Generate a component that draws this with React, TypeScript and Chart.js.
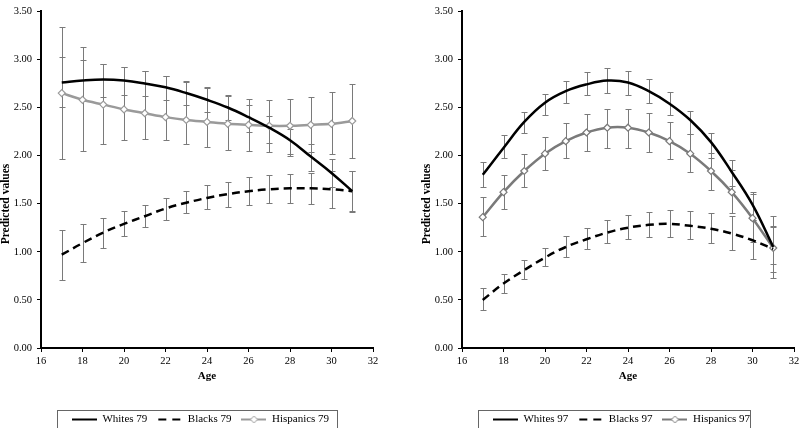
import React, { useEffect, useRef } from "react";
import { Chart, registerables } from "chart.js";
Chart.register(...registerables);

const ages = [17, 18, 19, 20, 21, 22, 23, 24, 25, 26, 27, 28, 29, 30, 31];
const xTickValues = [16, 18, 20, 22, 24, 26, 28, 30, 32];
const yTickValues = [0, 0.5, 1, 1.5, 2, 2.5, 3, 3.5];

// Cohort 79
const whites79 = [2.76, 2.78, 2.79, 2.78, 2.75, 2.71, 2.65, 2.58, 2.5, 2.4, 2.29, 2.16, 1.99, 1.82, 1.63];
const whites79Low = [2.5, 2.57, 2.61, 2.63, 2.62, 2.58, 2.53, 2.45, 2.37, 2.25, 2.13, 2.02, 1.84, 1.67, 1.42];
const whites79High = [3.02, 2.99, 2.95, 2.92, 2.88, 2.83, 2.77, 2.71, 2.63, 2.53, 2.41, 2.28, 2.12, 1.96, 1.84];
const blacks79 = [0.97, 1.09, 1.2, 1.29, 1.37, 1.45, 1.51, 1.56, 1.6, 1.63, 1.65, 1.66, 1.66, 1.65, 1.63];
const blacks79Low = [0.71, 0.89, 1.04, 1.16, 1.26, 1.33, 1.4, 1.44, 1.47, 1.49, 1.51, 1.51, 1.5, 1.46, 1.41];
const blacks79High = [1.23, 1.29, 1.35, 1.42, 1.49, 1.56, 1.63, 1.69, 1.73, 1.78, 1.8, 1.81, 1.82, 1.84, 1.84];
const hispanics79 = [2.65, 2.58, 2.53, 2.48, 2.44, 2.4, 2.37, 2.35, 2.33, 2.32, 2.31, 2.31, 2.32, 2.33, 2.36];
const hispanics79Low = [1.96, 2.05, 2.12, 2.16, 2.17, 2.16, 2.12, 2.09, 2.06, 2.05, 2.04, 2.0, 2.04, 2.02, 1.97];
const hispanics79High = [3.34, 3.13, 2.95, 2.92, 2.88, 2.83, 2.78, 2.7, 2.62, 2.59, 2.58, 2.59, 2.61, 2.66, 2.74];

// Cohort 97
const whites97 = [1.8, 2.08, 2.35, 2.55, 2.67, 2.74, 2.78, 2.76, 2.67, 2.54, 2.37, 2.14, 1.83, 1.49, 1.05];
const whites97Low = [1.67, 1.98, 2.24, 2.42, 2.55, 2.63, 2.65, 2.63, 2.55, 2.42, 2.22, 1.98, 1.68, 1.33, 0.87];
const whites97High = [1.93, 2.21, 2.45, 2.64, 2.78, 2.87, 2.91, 2.88, 2.8, 2.66, 2.46, 2.23, 1.95, 1.62, 1.26];
const blacks97 = [0.5, 0.67, 0.81, 0.94, 1.05, 1.13, 1.2, 1.25, 1.28, 1.29, 1.27, 1.24, 1.19, 1.12, 1.03];
const blacks97Low = [0.39, 0.57, 0.72, 0.85, 0.95, 1.03, 1.09, 1.13, 1.15, 1.15, 1.13, 1.09, 1.02, 0.92, 0.79];
const blacks97High = [0.62, 0.77, 0.91, 1.04, 1.16, 1.25, 1.33, 1.38, 1.41, 1.43, 1.42, 1.4, 1.37, 1.33, 1.27];
const hispanics97 = [1.36, 1.62, 1.84, 2.02, 2.15, 2.24, 2.29, 2.29, 2.24, 2.15, 2.02, 1.84, 1.62, 1.35, 1.04];
const hispanics97Low = [1.16, 1.45, 1.67, 1.85, 1.97, 2.05, 2.08, 2.08, 2.04, 1.96, 1.83, 1.64, 1.4, 1.1, 0.73];
const hispanics97High = [1.57, 1.8, 2.02, 2.19, 2.34, 2.43, 2.48, 2.48, 2.44, 2.35, 2.22, 2.03, 1.85, 1.6, 1.37];

const FONT = "'Liberation Serif', 'Times New Roman', serif";
const CANVAS_W = 392;
const CANVAS_H = 435;
const Y_TITLE = "Predicted values";

type Series = { label: string; values: number[]; low: number[]; high: number[] };

function makeSample(kind: number, gray: string): HTMLCanvasElement {
  const c = document.createElement("canvas");
  c.width = 25;
  c.height = 11;
  const ctx = c.getContext("2d")!;
  ctx.lineWidth = 2;
  if (kind === 0) {
    ctx.strokeStyle = "#000";
    ctx.beginPath();
    ctx.moveTo(0, 5.5);
    ctx.lineTo(25, 5.5);
    ctx.stroke();
  } else if (kind === 1) {
    ctx.strokeStyle = "#000";
    ctx.beginPath();
    ctx.moveTo(1, 5.5);
    ctx.lineTo(9, 5.5);
    ctx.moveTo(15, 5.5);
    ctx.lineTo(23, 5.5);
    ctx.stroke();
  } else {
    ctx.strokeStyle = gray;
    ctx.beginPath();
    ctx.moveTo(0, 5.5);
    ctx.lineTo(25, 5.5);
    ctx.stroke();
    ctx.lineWidth = 1;
    ctx.fillStyle = "#fff";
    ctx.beginPath();
    ctx.moveTo(12.5, 2);
    ctx.lineTo(16, 5.5);
    ctx.lineTo(12.5, 9);
    ctx.lineTo(9, 5.5);
    ctx.closePath();
    ctx.fill();
    ctx.stroke();
  }
  return c;
}

const errorBarPlugin = {
  id: "errbars",
  beforeDatasetsDraw(chart: any, _args: any, opts: any) {
    const bars: { low: number[]; high: number[] }[] = opts.bars || [];
    const { ctx, scales } = chart;
    const xs = scales.x;
    const ys = scales.y;
    ctx.save();
    ctx.strokeStyle = "#7a7a7a";
    ctx.lineWidth = 1;
    bars.forEach((b) => {
      ages.forEach((a, j) => {
        const x = Math.round(xs.getPixelForValue(a)) + 0.5;
        const y1 = Math.round(ys.getPixelForValue(b.low[j])) + 0.5;
        const y2 = Math.round(ys.getPixelForValue(b.high[j])) + 0.5;
        ctx.beginPath();
        ctx.moveTo(x, y1);
        ctx.lineTo(x, y2);
        ctx.moveTo(x - 3, y1);
        ctx.lineTo(x + 3, y1);
        ctx.moveTo(x - 3, y2);
        ctx.lineTo(x + 3, y2);
        ctx.stroke();
      });
    });
    ctx.restore();
  },
};

const yTitlePlugin = {
  id: "ytitle",
  afterDraw(chart: any) {
    const ctx = chart.ctx;
    ctx.save();
    ctx.translate(6, 204);
    ctx.rotate(-Math.PI / 2);
    ctx.font = `bold 11.5px ${FONT}`;
    ctx.fillStyle = "#000";
    ctx.textAlign = "center";
    ctx.textBaseline = "middle";
    ctx.fillText(Y_TITLE, 0, 0);
    ctx.restore();
  },
};

const legendShiftPlugin = {
  id: "legendshift",
  afterLayout(chart: any, _args: any, opts: any) {
    const lg = chart.legend;
    if (!lg) return;
    const dx = opts.dx ?? 0;
    lg.left += dx;
    lg.right += dx;
  },
};

const legendBoxPlugin = {
  id: "legendbox",
  afterDraw(chart: any, _args: any, opts: any) {
    const lg = chart.legend;
    if (!lg || !lg.legendHitBoxes || !lg.legendHitBoxes.length) return;
    const hb = lg.legendHitBoxes;
    const first = hb[0];
    const last = hb[hb.length - 1];
    const left = Math.round(first.left - 15) + 0.5;
    const right = Math.round(last.left + last.width + (opts.rightPad ?? 12)) + 0.5;
    const top = Math.round(first.top - 4) + 0.5;
    const ctx = chart.ctx;
    ctx.save();
    ctx.strokeStyle = "#666";
    ctx.lineWidth = 1;
    ctx.strokeRect(left, top, right - left, 40);
    ctx.restore();
  },
};

function PanelChart({ series, gray, rightPad }: { series: Series[]; gray: string; rightPad: number }) {
  const ref = useRef<HTMLCanvasElement | null>(null);
  useEffect(() => {
    if (!ref.current) return;
    const samples = [makeSample(0, gray), makeSample(1, gray), makeSample(2, gray)];
    const styles = [
      { color: "#000", dash: [] as number[], marker: false, tension: 0.4 },
      { color: "#000", dash: [8, 5], marker: false, tension: 0.4 },
      { color: gray, dash: [] as number[], marker: true, tension: 0.3 },
    ];
    const chart = new Chart(ref.current, {
      type: "line",
      data: {
        datasets: series.map((s, i) => ({
          label: s.label,
          data: ages.map((a, j) => ({ x: a, y: s.values[j] })),
          borderColor: styles[i].color,
          borderWidth: 2.5,
          borderDash: styles[i].dash,
          tension: styles[i].tension,
          fill: false,
          pointRadius: styles[i].marker ? 3.5 : 0,
          pointStyle: "rectRot",
          pointBackgroundColor: "#fff",
          pointBorderColor: styles[i].color,
          pointBorderWidth: 1.2,
        })),
      },
      options: {
        animation: false,
        responsive: false,
        devicePixelRatio: 1,
        layout: { autoPadding: false, padding: { top: 4, right: 19, left: 0, bottom: 0 } },
        plugins: {
          tooltip: { enabled: false },
          legend: {
            position: "bottom",
            labels: {
              usePointStyle: true,
              pointStyleWidth: 25,
              padding: 10,
              color: "#000",
              font: { family: FONT, size: 11 },
              generateLabels: (c: any) =>
                c.data.datasets.map((ds: any, i: number) => ({
                  text: ds.label,
                  pointStyle: samples[i],
                  datasetIndex: i,
                  hidden: false,
                  lineWidth: 0,
                  strokeStyle: "transparent",
                  fillStyle: "transparent",
                  fontColor: "#000",
                })),
            },
          },
          errbars: { bars: series.map((s) => ({ low: s.low, high: s.high })) },
          legendbox: { rightPad },
          legendshift: { dx: 14 },
        } as any,
        scales: {
          x: {
            type: "linear",
            min: 16,
            max: 32,
            afterBuildTicks: (scale: any) => {
              scale.ticks = xTickValues.map((v) => ({ value: v }));
            },
            afterFit: (scale: any) => {
              scale.height = 56;
            },
            ticks: {
              padding: 3,
              color: "#000",
              font: { family: FONT, size: 10.5 },
              maxRotation: 0,
              callback: (v: any) => String(v),
            },
            grid: { drawOnChartArea: false, drawTicks: true, tickLength: 4, tickColor: "#000", tickWidth: 1 },
            border: { color: "#000", width: 2 },
            title: {
              display: true,
              text: "Age",
              color: "#000",
              font: { family: FONT, size: 11, weight: "bold" },
              padding: { top: 0, bottom: 21 },
            },
          },
          y: {
            type: "linear",
            min: 0,
            max: 3.5,
            afterBuildTicks: (scale: any) => {
              scale.ticks = yTickValues.map((v) => ({ value: v }));
            },
            afterFit: (scale: any) => {
              scale.width = 41;
            },
            ticks: {
              padding: 5,
              color: "#000",
              font: { family: FONT, size: 10.5 },
              callback: (v: any) => Number(v).toFixed(2),
            },
            grid: { drawOnChartArea: false, drawTicks: true, tickLength: 4, tickColor: "#000", tickWidth: 1 },
            border: { color: "#000", width: 2 },
            title: { display: false, text: Y_TITLE },
          },
        },
      } as any,
      plugins: [errorBarPlugin, legendShiftPlugin, legendBoxPlugin, yTitlePlugin],
    });
    return () => chart.destroy();
  }, [series, gray, rightPad]);
  return <canvas ref={ref} width={CANVAS_W} height={CANVAS_H} style={{ width: CANVAS_W, height: CANVAS_H, display: "block" }} />;
}

const series79: Series[] = [
  { label: "Whites 79", values: whites79, low: whites79Low, high: whites79High },
  { label: "Blacks 79", values: blacks79, low: blacks79Low, high: blacks79High },
  { label: "Hispanics 79", values: hispanics79, low: hispanics79Low, high: hispanics79High },
];
const series97: Series[] = [
  { label: "Whites 97", values: whites97, low: whites97Low, high: whites97High },
  { label: "Blacks 97", values: blacks97, low: blacks97Low, high: blacks97High },
  { label: "Hispanics 97", values: hispanics97, low: hispanics97Low, high: hispanics97High },
];

export default function App() {
  return (
    <div style={{ position: "fixed", left: 0, top: 0, width: 800, height: 428, overflow: "hidden", background: "#fff" }}>
      <div style={{ position: "absolute", left: 0, top: 0 }}>
        <PanelChart series={series79} gray="#9a9a9a" rightPad={8} />
      </div>
      <div style={{ position: "absolute", left: 421, top: 0 }}>
        <PanelChart series={series97} gray="#7a7a7a" rightPad={0} />
      </div>
    </div>
  );
}
